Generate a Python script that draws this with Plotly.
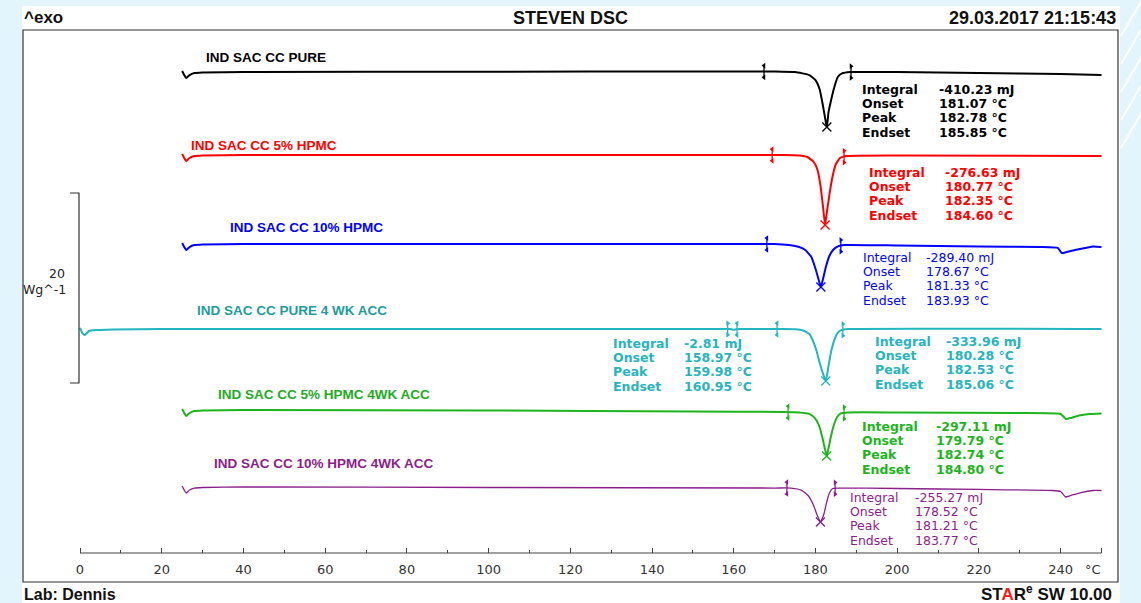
import numpy as np
import plotly.graph_objects as go

# ---------------------------------------------------------------------------
# DSC thermograms (temperature in °C, heat flow in W/g relative to the
# starting baseline of each run; exo is up)
# ---------------------------------------------------------------------------
SAMPLES = [
    "IND SAC CC PURE",
    "IND SAC CC 5% HPMC",
    "IND SAC CC 10% HPMC",
    "IND SAC CC PURE 4 WK ACC",
    "IND SAC CC 5% HPMC 4WK ACC",
    "IND SAC CC 10% HPMC 4WK ACC",
]

T_PURE = [25.0, 25.5, 26.0, 26.8, 28.0, 30.0, 40.0, 100.0, 150.0, 170.0, 175.0,
          178.5, 180.0, 181.0, 181.8, 182.3, 182.78, 183.2, 183.8, 184.6, 185.5,
          186.5, 188.5, 200.0, 220.0, 240.0, 250.0]
HF_PURE = [0.11, -0.32, -0.63, -0.32, -0.11, -0.05, 0.0, 0.03, 0.06, 0.06, 0.0,
           -0.32, -0.84, -1.79, -3.47, -4.70, -5.79, -4.20, -3.00, -1.60, -0.50,
           -0.15, 0.0, 0.0, -0.11, -0.21, -0.32]

T_5HPMC = [25.0, 25.5, 26.0, 26.8, 28.0, 30.0, 40.0, 150.0, 172.0, 176.0, 178.0,
           179.6, 180.5, 181.2, 181.8, 182.35, 182.8, 183.4, 184.1, 185.0, 186.0,
           187.5, 200.0, 250.0]
HF_5HPMC = [0.11, -0.32, -0.63, -0.32, -0.11, -0.05, 0.0, 0.0, 0.0, -0.05, -0.21,
            -0.74, -1.58, -3.16, -5.26, -7.37, -6.00, -4.21, -2.42, -0.95, -0.32,
            -0.11, -0.05, -0.11]

T_10HPMC = [25.0, 25.5, 26.0, 26.8, 28.0, 30.0, 40.0, 150.0, 170.0, 173.5, 176.0,
            177.5, 179.0, 180.1, 180.8, 181.33, 181.9, 182.6, 183.4, 184.3, 185.5,
            187.0, 200.0, 220.0, 235.0, 239.3, 240.3, 241.5, 243.5, 246.0, 248.0,
            250.0]
HF_10HPMC = [0.11, -0.32, -0.63, -0.32, -0.11, -0.05, 0.0, 0.0, 0.0, -0.11, -0.32,
             -0.63, -1.37, -2.74, -3.79, -4.53, -3.58, -2.32, -1.26, -0.63, -0.26,
             -0.11, -0.16, -0.26, -0.32, -0.42, -0.95, -0.84, -0.63, -0.42, -0.26,
             -0.32]

T_PURE_ACC = [0.0, 0.6, 1.2, 2.2, 4.0, 8.0, 20.0, 150.0, 158.9, 159.5, 159.98,
              160.5, 161.5, 172.0, 175.0, 177.0, 178.5, 179.3, 180.2, 180.9, 181.7,
              182.53, 183.1, 183.8, 184.6, 185.4, 186.3, 188.0, 250.0]
HF_PURE_ACC = [0.11, -0.42, -0.63, -0.21, -0.11, -0.05, 0.0, 0.0, 0.0, -0.03, -0.08,
               -0.03, 0.0, 0.0, -0.03, -0.16, -0.53, -1.16, -2.21, -3.37, -4.53,
               -5.47, -4.11, -2.42, -1.16, -0.42, -0.11, 0.0, 0.0]

T_5HPMC_ACC = [25.0, 25.5, 26.0, 26.8, 28.0, 30.0, 40.0, 100.0, 150.0, 172.0, 176.0,
               178.5, 179.8, 180.8, 181.6, 182.2, 182.74, 183.2, 183.8, 184.5, 185.3,
               186.2, 188.0, 200.0, 230.0, 240.0, 241.3, 242.5, 244.5, 247.0, 250.0]
HF_5HPMC_ACC = [0.11, -0.32, -0.63, -0.32, -0.11, -0.05, 0.0, -0.05, -0.16, -0.21,
                -0.26, -0.42, -0.84, -1.58, -2.74, -3.89, -4.84, -4.00, -2.74, -1.58,
                -0.74, -0.37, -0.26, -0.26, -0.32, -0.42, -0.95, -0.84, -0.58, -0.42,
                -0.37]

T_10HPMC_ACC = [25.0, 25.5, 26.0, 26.8, 28.0, 30.0, 40.0, 100.0, 170.0, 174.0, 176.5,
                178.3, 179.5, 180.4, 181.21, 182.0, 182.7, 183.4, 184.2, 185.5, 200.0,
                220.0, 238.0, 240.0, 241.2, 242.5, 245.0, 248.0, 250.0]
HF_10HPMC_ACC = [0.11, -0.32, -0.63, -0.32, -0.11, -0.05, 0.0, -0.05, -0.11, -0.11,
                 -0.32, -0.95, -1.89, -2.95, -3.68, -2.95, -1.68, -0.63, -0.16, -0.11,
                 -0.16, -0.26, -0.37, -0.47, -1.05, -0.89, -0.58, -0.37, -0.37]

# Peak evaluation results
INTEGRAL = [-410.23, -276.63, -289.40, -333.96, -297.11, -255.27]   # mJ
ONSET = [181.07, 180.77, 178.67, 180.28, 179.79, 178.52]            # °C
PEAK = [182.78, 182.35, 181.33, 182.53, 182.74, 181.21]             # °C
ENDSET = [185.85, 184.60, 183.93, 185.06, 184.80, 183.77]           # °C
LIMIT_LEFT = [167.4, 169.4, 168.1, 170.6, 173.3, 173.0]             # °C
LIMIT_RIGHT = [188.7, 187.0, 186.2, 186.7, 187.0, 184.8]            # °C

# Small event on the aged pure sample
MINOR_RESULT = [-2.81, 158.97, 159.98, 160.95]
MINOR_LIMITS = [158.5, 160.8]

X_TICKS = [0, 20, 40, 60, 80, 100, 120, 140, 160, 180, 200, 220, 240]
SCALE_BAR = 20  # W/g

CURVES = [
    (T_PURE, HF_PURE),
    (T_5HPMC, HF_5HPMC),
    (T_10HPMC, HF_10HPMC),
    (T_PURE_ACC, HF_PURE_ACC),
    (T_5HPMC_ACC, HF_5HPMC_ACC),
    (T_10HPMC_ACC, HF_10HPMC_ACC),
]

# ---------------------------------------------------------------------------
# Styling / layout
# ---------------------------------------------------------------------------
LINE_COLORS = ["#000000", "#ff0000", "#0000ff", "#22b6be", "#1db41d", "#8a1e8a"]
LABEL_COLORS = ["#000000", "#ff0000", "#0000ff", "#1e9c9c", "#22ab22", "#8a1e8a"]
TEXT_COLORS = ["#000000", "#ff0000", "#0000ff", "#27b4bd", "#1db41d", "#8a1e8a"]
LINE_WIDTHS = [2.0, 2.0, 2.0, 2.0, 2.0, 1.3]
BOLD_BLOCK = [True, True, False, True, True, False]
OFFSETS = [53.68, 44.95, 35.58, 26.63, 18.11, 10.0]   # vertical stacking, W/g

W, H = 1141, 603
L, R, TOP, BOT = 23, 1118, 30, 582
PX_PER_WG = 9.5
X_RANGE = [(L - 80) / 4.086, (R - 80) / 4.086]
Y_RANGE = [0, (BOT - TOP) / PX_PER_WG]


def px(x):
    return (x - L) / (R - L)


def py(y):
    return (BOT - y) / (BOT - TOP)


fig = go.Figure()

for i, (t, hf) in enumerate(CURVES):
    t = np.asarray(t)
    y = OFFSETS[i] + np.asarray(hf)
    col = LINE_COLORS[i]
    fig.add_trace(go.Scatter(
        x=t, y=y, mode="lines", name=SAMPLES[i],
        line=dict(color=col, width=LINE_WIDTHS[i], shape="spline", smoothing=0.4),
        hoverinfo="skip", showlegend=False))

    # integration limits
    lims = [(LIMIT_LEFT[i], "triangle-left"), (LIMIT_RIGHT[i], "triangle-right")]
    if i == 3:
        lims += [(MINOR_LIMITS[0], "triangle-right"), (MINOR_LIMITS[1], "triangle-left")]
    for tl, sym in lims:
        yb = float(np.interp(tl, t, y))
        fig.add_trace(go.Scatter(
            x=[tl, tl], y=[yb + 0.62, yb - 0.62], mode="lines+markers",
            line=dict(color=col, width=1.3),
            marker=dict(symbol=sym, size=5, color=col),
            hoverinfo="skip", showlegend=False))

    # peak marker
    fig.add_trace(go.Scatter(
        x=[PEAK[i]], y=[float(np.interp(PEAK[i], t, y))], mode="markers",
        marker=dict(symbol="x-thin", size=9, line=dict(color=col, width=1.3)),
        hoverinfo="skip", showlegend=False))

annotations = []


def txt(x, y, text, size, color="#000000", family="DejaVu Sans", anchor="left"):
    annotations.append(dict(
        x=px(x), y=py(y), xref="paper", yref="paper", text=text, showarrow=False,
        xanchor=anchor, yanchor="middle",
        font=dict(family=family, size=size, color=color)))


# sample names above each curve
NAME_POS = [(204, 57), (189, 145), (228, 227), (195, 311), (216, 395), (212, 463)]
for i, (x, y) in enumerate(NAME_POS):
    txt(x, y, "<b>" + SAMPLES[i] + "</b>", 13.5, LABEL_COLORS[i], "Liberation Sans")

# evaluation result blocks
BLOCK_POS = [(860, 937, 89), (867, 943, 172), (861, 924, 257),
             (873, 944, 341), (860, 934, 426), (848, 913, 497)]
ROW_NAMES = ["Integral", "Onset", "Peak", "Endset"]


def result_block(xl, xv, y0, res, color, bold):
    vals = [f"{res[0]:.2f} mJ", f"{res[1]:.2f} °C", f"{res[2]:.2f} °C", f"{res[3]:.2f} °C"]
    for k in range(4):
        a, b = ROW_NAMES[k], vals[k]
        if bold:
            a, b = "<b>" + a + "</b>", "<b>" + b + "</b>"
        txt(xl, y0 + k * 14.4, a, 12.5, color)
        txt(xv, y0 + k * 14.4, b, 12.5, color)


for i, (xl, xv, y0) in enumerate(BLOCK_POS):
    result_block(xl, xv, y0, [INTEGRAL[i], ONSET[i], PEAK[i], ENDSET[i]],
                 TEXT_COLORS[i], BOLD_BLOCK[i])
result_block(611, 682, 343, MINOR_RESULT, TEXT_COLORS[3], True)

# header and footer
txt(22, 18, "<b>^exo</b>", 17, "#111111", "Liberation Sans")
txt(570, 18, "<b>STEVEN DSC</b>", 18, "#111111", "Liberation Sans", "center")
txt(1118, 18, "<b>29.03.2017 21:15:43</b>", 18, "#111111", "Liberation Sans", "right")
txt(22, 594, "<b>Lab: Dennis</b>", 16, "#111111", "Liberation Sans")
txt(1114, 593, "<b>ST<span style='color:#ff1a1a'>A</span>R<sup>e</sup> SW 10.00</b>",
    17, "#111111", "Liberation Sans", "right")

# scale bar label and unit label on the axis
txt(67, 273, "20", 12.5, "#222222", anchor="right")
txt(21, 289, "Wg^-1", 12.5, "#222222")
txt(1093, 569, "°C", 13, "#333333", anchor="center")

shapes = []
# white sheet and the light blue surround
shapes.append(dict(type="rect", xref="paper", yref="paper", layer="below",
                   x0=px(22), x1=px(1120), y0=py(603), y1=py(6),
                   fillcolor="#ffffff", line=dict(width=0)))
for k in range(5):
    shapes.append(dict(type="line", xref="paper", yref="paper", layer="below",
                       x0=px(1121), y0=py(36 + k * 28), x1=px(1141), y1=py(2 + k * 28),
                       line=dict(color="rgba(255,255,255,0.9)", width=2)))
# frame
shapes.append(dict(type="rect", xref="paper", yref="paper",
                   x0=0, x1=1, y0=0, y1=1, line=dict(color="#333333", width=1.2)))
# temperature axis line
AXIS_Y = py(553)
shapes.append(dict(type="line", xref="x", yref="paper", x0=0, x1=250,
                   y0=AXIS_Y, y1=AXIS_Y, line=dict(color="#444444", width=1)))
# heat-flow scale bar
bar_mid = (BOT - 288) / PX_PER_WG
bar_top, bar_bot = bar_mid + SCALE_BAR / 2, bar_mid - SCALE_BAR / 2
xb0, xb1 = px(70), px(79)
shapes.append(dict(type="path", xref="paper", yref="y",
                   path=f"M {xb0},{bar_top} L {xb1},{bar_top} L {xb1},{bar_bot} L {xb0},{bar_bot}",
                   line=dict(color="#333333", width=1.2)))

fig.update_layout(
    width=W, height=H,
    margin=dict(l=L, r=W - R, t=TOP, b=H - BOT),
    paper_bgcolor="#e3f5fc",
    plot_bgcolor="#ffffff",
    showlegend=False,
    annotations=annotations,
    shapes=shapes,
    xaxis=dict(
        range=X_RANGE, anchor="free", position=AXIS_Y,
        showgrid=False, zeroline=False, showline=False,
        tickmode="array", tickvals=X_TICKS + [250],
        ticktext=[str(v) for v in X_TICKS] + [""],
        ticks="inside", ticklen=5, tickwidth=1, tickcolor="#444444",
        ticklabelstandoff=7,
        tickfont=dict(family="DejaVu Sans", size=13, color="#333333"),
        minor=dict(tickmode="array", tickvals=list(range(10, 240, 20)),
                   ticks="inside", ticklen=3, tickwidth=1, tickcolor="#444444"),
        fixedrange=True,
    ),
    yaxis=dict(range=Y_RANGE, visible=False, fixedrange=True),
)

fig.write_html("out.html")
